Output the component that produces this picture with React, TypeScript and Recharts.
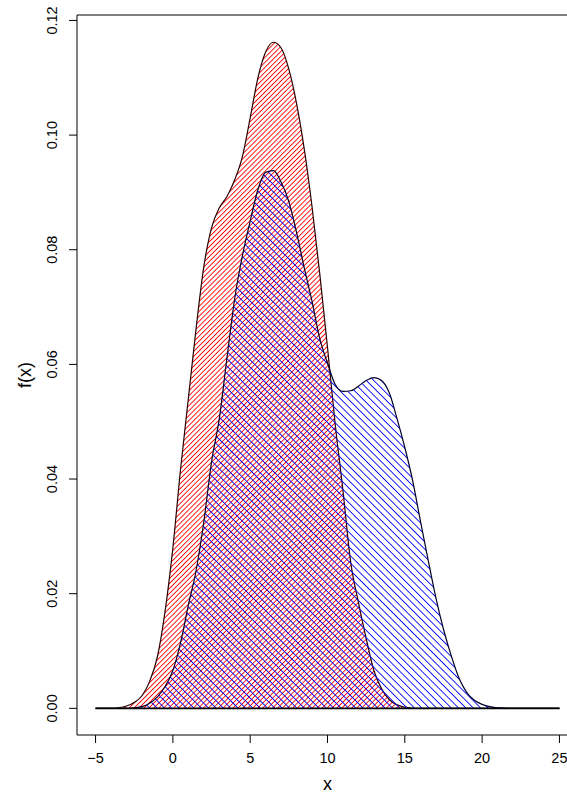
import { ComposedChart, Area, XAxis, YAxis, ReferenceLine, ReferenceArea } from 'recharts';

// density estimates
const xs = [
  -5, -4.5, -4, -3.5, -3, -2.5, -2, -1.5, -1, -0.5, 0, 0.5, 1, 1.5, 2, 2.5, 3, 3.5, 4, 4.5,
  5, 5.5, 6, 6.5, 7, 7.5, 8, 8.5, 9, 9.5, 10, 10.5, 11, 11.5, 12, 12.5, 13, 13.5, 14, 14.5,
  15, 15.5, 16, 16.5, 17, 17.5, 18, 18.5, 19, 19.5, 20, 20.5, 21, 22, 23, 24, 25,
];
const redDensity = [
  0, 0, 0, 0.0001, 0.0004, 0.001, 0.0022, 0.0047, 0.009, 0.017, 0.028, 0.0418, 0.054, 0.0662, 0.077, 0.0838, 0.0873, 0.0893, 0.0922, 0.0963,
  0.103, 0.11, 0.1145, 0.1162, 0.1152, 0.1115, 0.1055, 0.0975, 0.0875, 0.0758, 0.063, 0.0495, 0.038, 0.0255, 0.0185, 0.0122, 0.0066, 0.0034, 0.0015, 0.0006,
  0.0002, 0, 0, 0, 0, 0, 0, 0, 0, 0, 0, 0, 0, 0, 0, 0, 0,
];
const blueDensity = [
  0, 0, 0, 0, 0, 0.0001, 0.0003, 0.0009, 0.002, 0.0038, 0.0066, 0.0115, 0.018, 0.024, 0.0325, 0.043, 0.0505, 0.0612, 0.0715, 0.079,
  0.085, 0.0905, 0.0935, 0.0938, 0.0918, 0.0884, 0.083, 0.0768, 0.071, 0.0645, 0.0602, 0.0565, 0.0553, 0.0554, 0.0562, 0.0572, 0.0577, 0.0572, 0.055, 0.0505,
  0.0455, 0.0398, 0.0328, 0.026, 0.0194, 0.0138, 0.0092, 0.0053, 0.0028, 0.0014, 0.0007, 0.0003, 0.0001, 0, 0, 0, 0,
];
const xTicks = [-5, 0, 5, 10, 15, 20, 25];
const yTicks = [0, 0.02, 0.04, 0.06, 0.08, 0.1, 0.12];
const xDomain = [-6.2, 26.2];
const yDomain = [-0.00465, 0.12095];

const data = xs.map((x, i) => ({ x, red: redDensity[i], blue: blueDensity[i] }));

const FONT = '"Liberation Sans", Arial, Helvetica, sans-serif';
const TICK_SIZE = 14.5;
const LABEL_SIZE = 18;

function YTick(props: any) {
  const { x, y, payload } = props;
  return (
    <text
      x={x}
      y={y}
      transform={`rotate(-90, ${x}, ${y})`}
      textAnchor="middle"
      dominantBaseline="central"
      fontSize={TICK_SIZE}
      fontFamily={FONT}
      fill="#000"
    >
      {Number(payload.value).toFixed(2)}
    </text>
  );
}

function YLabel(props: any) {
  const { viewBox } = props;
  const x = viewBox.x + 25;
  const y = viewBox.y + viewBox.height / 2;
  return (
    <text x={x} y={y} transform={`rotate(-90, ${x}, ${y})`} textAnchor="middle" dominantBaseline="central"
      fontSize={LABEL_SIZE} fontFamily={FONT} fill="#000">
      f(x)
    </text>
  );
}

function XLabel(props: any) {
  const { viewBox } = props;
  return (
    <text x={viewBox.x + viewBox.width / 2} y={viewBox.y + 49} textAnchor="middle" dominantBaseline="central"
      fontSize={LABEL_SIZE} fontFamily={FONT} fill="#000">
      x
    </text>
  );
}

export default function App() {
  return (
    <div style={{ position: 'absolute', left: 0, top: 0, width: 567, height: 796, overflow: 'hidden', background: '#fff' }}>
      <ComposedChart width={600} height={796} data={data} margin={{ top: 15, right: 22, bottom: 0, left: 0 }}>
        <defs>
          <pattern id="redHatch" patternUnits="userSpaceOnUse" width="3.5" height="3.5" patternTransform="rotate(45)">
            <line x1="0.5" y1="-1" x2="0.5" y2="4.5" stroke="#ff0000" strokeWidth="1" shapeRendering="crispEdges" />
          </pattern>
          <pattern id="blueHatch" patternUnits="userSpaceOnUse" width="5.2" height="5.2" patternTransform="rotate(-45)">
            <line x1="0.5" y1="-1" x2="0.5" y2="6.2" stroke="#0000ff" strokeWidth="1" shapeRendering="crispEdges" />
          </pattern>
        </defs>
        <XAxis
          dataKey="x"
          type="number"
          domain={xDomain}
          ticks={xTicks}
          allowDataOverflow
          height={61}
          axisLine={false}
          tickLine={{ stroke: '#000' }}
          tickSize={8}
          tickMargin={10}
          tickFormatter={(v: number) => String(v).replace('-', '\u2212')}
          tick={{ fontSize: TICK_SIZE, fontFamily: FONT, fill: '#000' }}
          label={<XLabel />}
        />
        <YAxis
          type="number"
          domain={yDomain}
          ticks={yTicks}
          allowDataOverflow
          width={77}
          axisLine={false}
          tickLine={{ stroke: '#000' }}
          tickSize={8}
          tickMargin={17}
          tick={<YTick />}
          label={<YLabel />}
        />
        <Area
          dataKey="red"
          type="monotone"
          baseValue={0}
          fill="url(#redHatch)"
          fillOpacity={1}
          stroke="#2a0000"
          strokeWidth={1.2}
          dot={false}
          activeDot={false}
          isAnimationActive={false}
        />
        <Area
          dataKey="blue"
          type="monotone"
          baseValue={0}
          fill="url(#blueHatch)"
          fillOpacity={1}
          stroke="#00002a"
          strokeWidth={1.2}
          dot={false}
          activeDot={false}
          isAnimationActive={false}
        />
        <ReferenceLine
          segment={[{ x: xs[0], y: 0 }, { x: xs[xs.length - 1], y: 0 }]}
          stroke="#000"
          strokeWidth={1.6}
        />
        <ReferenceArea
          x1={xDomain[0]}
          x2={xDomain[1]}
          y1={yDomain[0]}
          y2={yDomain[1]}
          fill="none"
          stroke="#000"
          strokeWidth={1}
          ifOverflow="visible"
        />
      </ComposedChart>
    </div>
  );
}
